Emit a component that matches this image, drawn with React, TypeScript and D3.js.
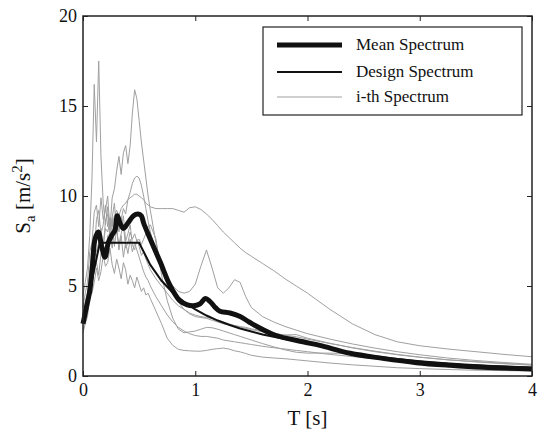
import React, { useRef, useEffect } from 'react';
import * as d3 from 'd3';

// period grids (s)
const tLow = [0, 0.02, 0.04, 0.06, 0.08, 0.1, 0.12, 0.14, 0.16, 0.18, 0.2, 0.22, 0.24, 0.26, 0.28, 0.3,
  0.32, 0.34, 0.36, 0.38, 0.4, 0.42, 0.44, 0.46, 0.48, 0.5, 0.52, 0.54, 0.56, 0.58, 0.6];
const tHigh = [0.65, 0.7, 0.75, 0.8, 0.85, 0.9, 0.95, 1.0, 1.05, 1.1, 1.15, 1.2, 1.25, 1.3, 1.35, 1.4,
  1.45, 1.5, 1.6, 1.7, 1.8, 1.9, 2.0, 2.2, 2.4, 2.6, 2.8, 3.0, 3.25, 3.5, 3.75, 4.0];

// i-th record spectra, Sa in m/s2 on tLow then tHigh
const rec1 = [3.4, 4.1, 4.6, 5.8, 6.0, 7.0, 6.6, 7.4, 7.8, 7.3, 8.2, 8.0, 8.6, 8.3, 8.9, 9.2, 8.9, 9.3, 9.5, 9.6, 9.8, 9.9, 10.0, 10.1, 10.1, 10.0, 9.9, 9.8, 9.6, 9.5, 9.4,
  9.3, 9.3, 9.3, 9.3, 9.2, 9.1, 9.35, 9.4, 9.25, 9.0, 8.7, 8.35, 8.0, 7.7, 7.4, 7.1, 6.85, 6.65, 6.25, 5.85, 5.4, 5.0, 4.6, 3.7, 2.9, 2.3, 1.9, 1.68, 1.5, 1.35, 1.2, 1.07];
const rec2 = [3.0, 3.7, 4.2, 5.4, 6.3, 7.4, 6.9, 7.4, 8.2, 7.1, 8.6, 9.0, 8.2, 9.9, 10.4, 11.4, 12.2, 11.2, 12.4, 12.8, 11.8, 12.8, 14.6, 15.9, 15.4, 14.2, 13.0, 12.0, 11.0, 10.0, 9.2,
  7.4, 6.0, 5.2, 4.6, 4.1, 3.7, 3.45, 3.3, 3.25, 3.2, 3.1, 3.0, 2.9, 2.85, 2.8, 2.75, 2.7, 2.62, 2.5, 2.38, 2.26, 2.18, 2.05, 1.8, 1.58, 1.38, 1.2, 1.05, 0.9, 0.78, 0.68, 0.6];
const rec3 = [4.5, 5.2, 6.0, 7.8, 11.0, 16.2, 13.0, 17.5, 12.2, 9.6, 8.4, 9.4, 7.6, 8.8, 7.2, 8.2, 7.0, 7.8, 6.6, 7.4, 6.8, 7.6, 6.9, 7.4, 7.0, 6.6, 6.2, 5.8, 5.5, 5.3, 5.0,
  4.4, 3.9, 3.4, 3.0, 2.7, 2.5, 2.35, 2.25, 2.2, 2.2, 2.15, 2.1, 2.0, 1.95, 1.9, 1.85, 1.8, 1.75, 1.65, 1.57, 1.5, 1.42, 1.35, 1.2, 1.08, 0.96, 0.86, 0.77, 0.68, 0.6, 0.54, 0.48];
const rec4 = [2.6, 3.1, 3.6, 4.8, 5.3, 6.1, 6.3, 5.6, 6.8, 7.2, 6.6, 7.8, 7.9, 7.1, 8.4, 8.8, 8.0, 8.7, 9.3, 9.0, 9.8, 10.2, 10.7, 11.0, 11.1, 11.0, 10.6, 10.0, 9.3, 8.6, 8.0,
  6.9, 6.0, 5.4, 5.0, 4.7, 4.6, 4.7, 5.1, 6.1, 7.0, 6.0, 4.9, 4.6, 4.9, 5.35, 5.2, 4.4, 3.8, 3.3, 3.0, 2.75, 2.55, 2.35, 2.05, 1.78, 1.55, 1.35, 1.18, 1.0, 0.86, 0.75, 0.65];
const rec5 = [2.4, 2.9, 3.3, 4.4, 4.6, 5.2, 6.0, 5.3, 5.8, 6.7, 6.1, 6.3, 7.1, 6.2, 5.7, 6.5, 6.0, 5.4, 6.3, 5.9, 5.1, 5.6, 5.3, 4.9, 5.5, 5.1, 4.7, 4.9, 4.5, 4.6, 4.3,
  3.6, 2.9, 2.1, 1.7, 1.48, 1.42, 1.4, 1.38, 1.38, 1.42, 1.48, 1.52, 1.55, 1.5, 1.4, 1.34, 1.25, 1.15, 1.05, 1.0, 0.96, 0.9, 0.84, 0.72, 0.62, 0.54, 0.46, 0.41, 0.36, 0.32, 0.3, 0.28];
const rec6 = [3.2, 3.9, 4.5, 5.6, 7.3, 6.8, 8.7, 9.2, 7.9, 8.4, 9.5, 8.3, 8.8, 7.6, 8.9, 8.1, 7.3, 7.9, 8.4, 7.1, 7.4, 8.0, 7.6, 7.9, 7.5, 7.6, 7.3, 7.6, 7.9, 8.3, 8.4,
  7.6, 5.6, 4.2, 3.2, 2.6, 2.4, 2.45, 2.5, 2.6, 2.7, 2.68, 2.6, 2.5, 2.4, 2.3, 2.2, 2.1, 2.0, 1.8, 1.62, 1.45, 1.32, 1.27, 1.27, 1.24, 1.08, 0.9, 0.76, 0.63, 0.53, 0.46, 0.4];
const rec7 = [3.8, 4.6, 5.2, 6.9, 7.4, 9.1, 9.5, 8.3, 9.9, 8.7, 9.2, 10.0, 8.1, 8.8, 9.6, 7.9, 8.6, 8.2, 8.9, 7.5, 7.9, 8.4, 7.3, 7.0, 7.6, 7.2, 6.7, 6.9, 6.5, 6.2, 5.9,
  5.4, 5.0, 4.6, 4.2, 3.9, 3.7, 3.5, 3.38, 3.3, 3.25, 3.2, 3.1, 3.0, 2.9, 2.8, 2.72, 2.65, 2.58, 2.45, 2.35, 2.28, 2.3, 2.1, 1.82, 1.56, 1.35, 1.18, 1.04, 0.9, 0.8, 0.7, 0.62];
const records = [rec1, rec2, rec3, rec4, rec5, rec6, rec7];

// mean spectrum
const meanT = [0, 0.03, 0.062, 0.085, 0.107, 0.136, 0.166, 0.196, 0.225, 0.255, 0.285, 0.306, 0.33, 0.36, 0.4, 0.45, 0.49, 0.52, 0.54,
  0.6, 0.69, 0.77, 0.86, 0.93, 0.98, 1.04, 1.09, 1.13, 1.18, 1.22, 1.31, 1.4, 1.48, 1.55, 1.72, 1.96, 2.11, 2.38, 2.67, 2.97, 3.27, 3.56, 4.0];
const meanSa = [2.9, 3.8, 4.8, 6.2, 7.6, 8.0, 7.2, 6.6, 7.4, 7.8, 8.1, 8.9, 8.5, 8.2, 8.5, 8.9, 9.0, 8.9, 8.5,
  7.6, 6.3, 5.1, 4.2, 3.95, 3.9, 4.0, 4.3, 4.15, 3.8, 3.6, 3.5, 3.3, 3.0, 2.75, 2.25, 1.9, 1.7, 1.26, 0.98, 0.74, 0.59, 0.48, 0.39];

// design spectrum
const designT = [0, 0.15, 0.5, 0.6, 0.7, 0.8, 0.9, 1.0, 1.1, 1.2, 1.3, 1.4, 1.5, 1.6, 1.7, 1.8, 1.9, 2.0,
  2.2, 2.4, 2.6, 2.8, 3.0, 3.2, 3.4, 3.6, 3.8, 4.0];
const designSa = [2.96, 7.4, 7.4, 6.17, 5.29, 4.63, 4.11, 3.7, 3.36, 3.08, 2.85, 2.64, 2.47, 2.31, 2.18, 2.06, 1.95, 1.85,
  1.53, 1.28, 1.09, 0.94, 0.82, 0.72, 0.64, 0.57, 0.51, 0.46];

const xTicks = [0, 1, 2, 3, 4];
const yTicks = [0, 5, 10, 15, 20];
const legendLabels = ['Mean Spectrum', 'Design Spectrum', 'i-th Spectrum'];

const W = 539;
const H = 431;
const FONT = 'Liberation Serif, DejaVu Serif, Times New Roman, serif';

const App = () => {
  const ref = useRef<SVGSVGElement>(null);

  useEffect(() => {
    const svg = d3.select(ref.current);
    svg.selectAll('*').remove();

    const margin = { top: 16, right: 7, bottom: 55, left: 83 };
    const iw = W - margin.left - margin.right;
    const ih = H - margin.top - margin.bottom;

    const x = d3.scaleLinear().domain([0, 4]).range([0, iw]);
    const y = d3.scaleLinear().domain([0, 20]).range([ih, 0]);

    const g = svg.append('g').attr('transform', `translate(${margin.left},${margin.top})`);

    const line = d3.line<[number, number]>()
      .x(d => x(d[0]))
      .y(d => y(d[1]));

    const allT = tLow.concat(tHigh);

    // individual records
    records.forEach(rec => {
      g.append('path')
        .datum(allT.map((t, i) => [t, rec[i]] as [number, number]))
        .attr('fill', 'none')
        .attr('stroke', '#a0a0a0')
        .attr('stroke-width', 1)
        .attr('d', line);
    });

    // design
    g.append('path')
      .datum(designT.map((t, i) => [t, designSa[i]] as [number, number]))
      .attr('fill', 'none')
      .attr('stroke', '#111')
      .attr('stroke-width', 2)
      .attr('d', line);

    // mean
    g.append('path')
      .datum(meanT.map((t, i) => [t, meanSa[i]] as [number, number]))
      .attr('fill', 'none')
      .attr('stroke', '#111')
      .attr('stroke-width', 5)
      .attr('stroke-linejoin', 'round')
      .attr('d', line.curve(d3.curveCatmullRom));

    // axes, matlab style ticks inside
    const styleAxis = (sel: any) => {
      sel.attr('font-family', FONT);
      sel.select('.domain').remove();
      sel.selectAll('line').attr('stroke', '#222');
      sel.selectAll('text').attr('font-size', 18).attr('fill', '#111');
    };

    g.append('g')
      .attr('transform', `translate(0,${ih})`)
      .call(d3.axisBottom(x).tickValues(xTicks).tickSize(-5).tickPadding(7).tickFormat(d3.format('d')))
      .call(styleAxis);
    g.append('g')
      .call(d3.axisTop(x).tickValues(xTicks).tickSize(-5).tickFormat(() => ''))
      .call(styleAxis);
    g.append('g')
      .call(d3.axisLeft(y).tickValues(yTicks).tickSize(-5).tickPadding(6).tickFormat(d3.format('d')))
      .call(styleAxis);
    g.append('g')
      .attr('transform', `translate(${iw},0)`)
      .call(d3.axisRight(y).tickValues(yTicks).tickSize(-5).tickFormat(() => ''))
      .call(styleAxis);

    g.append('rect')
      .attr('width', iw)
      .attr('height', ih)
      .attr('fill', 'none')
      .attr('stroke', '#222')
      .attr('stroke-width', 1.5);

    // axis labels
    svg.append('text')
      .attr('x', margin.left + iw / 2)
      .attr('y', 425)
      .attr('text-anchor', 'middle')
      .attr('font-family', FONT)
      .attr('font-size', 21)
      .attr('fill', '#111')
      .text('T [s]');

    const yl = svg.append('text')
      .attr('transform', `translate(30,${margin.top + ih / 2}) rotate(-90)`)
      .attr('text-anchor', 'middle')
      .attr('font-family', FONT)
      .attr('font-size', 21)
      .attr('fill', '#111');
    yl.append('tspan').text('S');
    yl.append('tspan').attr('font-size', 15).attr('dy', 5).text('a');
    yl.append('tspan').attr('dy', -5).text(' [m/s');
    yl.append('tspan').attr('font-size', 15).attr('dy', -8).text('2');
    yl.append('tspan').attr('dy', 8).text(']');

    // legend
    const lg = svg.append('g').attr('transform', 'translate(263,27)');
    lg.append('rect')
      .attr('width', 259)
      .attr('height', 88)
      .attr('fill', '#fff')
      .attr('stroke', '#222')
      .attr('stroke-width', 1.2);
    const rows = [
      { dy: 18, w: 5, c: '#111' },
      { dy: 45, w: 2, c: '#111' },
      { dy: 70, w: 1, c: '#a0a0a0' },
    ];
    rows.forEach((r, i) => {
      lg.append('line')
        .attr('x1', 14).attr('x2', 79)
        .attr('y1', r.dy).attr('y2', r.dy)
        .attr('stroke', r.c)
        .attr('stroke-width', r.w);
      lg.append('text')
        .attr('x', 93)
        .attr('y', r.dy + 5)
        .attr('font-family', FONT)
        .attr('font-size', 17)
        .attr('fill', '#111')
        .text(legendLabels[i]);
    });
  }, []);

  return (
    <svg ref={ref} width={W} height={H} style={{ position: 'absolute', left: 0, top: 0, background: '#fff' }} />
  );
};

export default App;
